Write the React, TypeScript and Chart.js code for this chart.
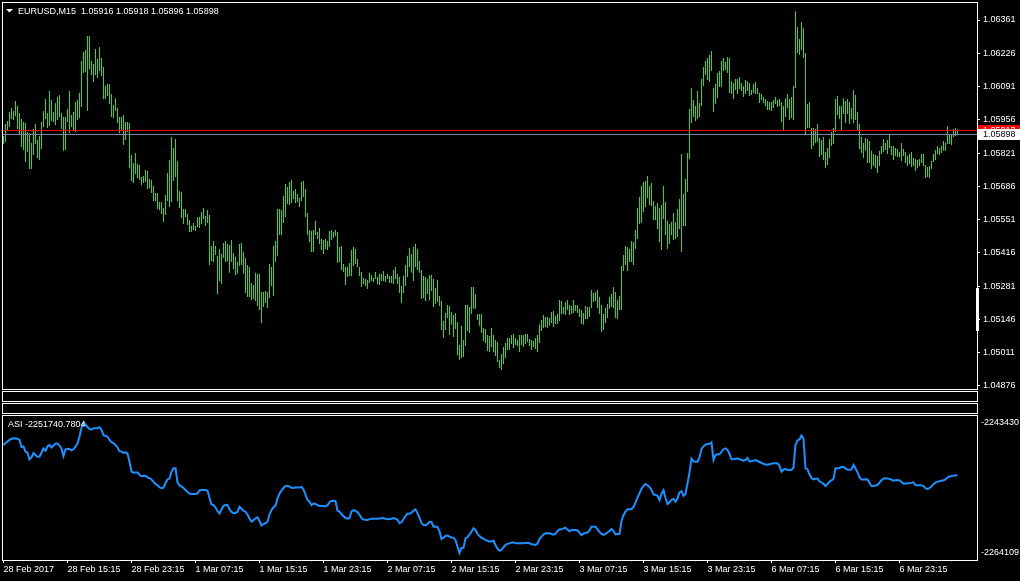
import React, { useEffect, useRef } from 'react';
import { Chart, registerables } from 'chart.js';

Chart.register(...registerables);

const FONT_FAMILY = '"Liberation Sans", Arial, sans-serif';
const BAR_COLOR = 'rgb(50, 220, 30)';
const ASI_COLOR = '#1e90ff';
const BID_COLOR = '#778899';
const ASK_COLOR = '#ff0000';

const symbolTitle = 'EURUSD,M15';
const lastBarOHLC = [1.05916, 1.05918, 1.05896, 1.05898];
const bidPrice = 1.05898;
const askPrice = 1.05913;

const priceTicks = [1.06361, 1.06226, 1.06091, 1.05956, 1.05821, 1.05686, 1.05551, 1.05416, 1.05281, 1.05146, 1.05011, 1.04876];
const priceAxisMin = 1.048638;
const priceAxisMax = 1.0643;

const asiTicks = [-2243430, -2264109];
const asiAxisMin = -2265222.5;
const asiAxisMax = -2242316.5;
const asiLastValue = -2251740.7804;

const barIndexMin = -0.25;
const barIndexMax = 486.75;

const timeTickBars = [0, 32, 64, 96, 128, 160, 192, 224, 256, 288, 320, 352, 384, 416, 448];
const timeLabels = ['28 Feb 2017', '28 Feb 15:15', '28 Feb 23:15', '1 Mar 07:15', '1 Mar 15:15', '1 Mar 23:15', '2 Mar 07:15', '2 Mar 15:15', '2 Mar 23:15', '3 Mar 07:15', '3 Mar 15:15', '3 Mar 23:15', '6 Mar 07:15', '6 Mar 15:15', '6 Mar 23:15'];

const barHighs = [
  1.05890,1.05939,1.05951,1.05988,1.06004,1.05992,1.06032,1.06012,1.05984,1.05959,
  1.05947,1.05943,1.05907,1.05902,1.05862,1.05919,1.05939,1.05874,1.05890,1.05947,
  1.05992,1.06040,1.05984,1.06073,1.06036,1.05988,1.06024,1.06049,1.06057,1.05984,
  1.05967,1.05967,1.06000,1.06073,1.05976,1.05988,1.06028,1.06036,1.06065,1.06195,
  1.06231,1.06239,1.06296,1.06296,1.06195,1.06182,1.06243,1.06203,1.06251,1.06207,
  1.06170,1.06093,1.06101,1.06101,1.06061,1.06016,1.06044,1.06004,1.05967,1.05967,
  1.05976,1.05947,1.05947,1.05943,1.05813,1.05781,1.05821,1.05777,1.05773,1.05724,
  1.05728,1.05752,1.05748,1.05716,1.05712,1.05687,1.05659,1.05659,1.05623,1.05623,
  1.05598,1.05651,1.05740,1.05793,1.05886,1.05842,1.05878,1.05789,1.05667,1.05663,
  1.05594,1.05594,1.05574,1.05550,1.05525,1.05537,1.05525,1.05562,1.05562,1.05582,
  1.05598,1.05566,1.05590,1.05570,1.05444,1.05464,1.05444,1.05404,1.05432,1.05412,
  1.05456,1.05464,1.05452,1.05448,1.05468,1.05416,1.05400,1.05379,1.05452,1.05456,
  1.05420,1.05395,1.05367,1.05359,1.05294,1.05286,1.05335,1.05331,1.05331,1.05257,
  1.05257,1.05261,1.05257,1.05371,1.05359,1.05444,1.05464,1.05594,1.05594,1.05590,
  1.05647,1.05696,1.05683,1.05704,1.05712,1.05667,1.05675,1.05655,1.05639,1.05704,
  1.05708,1.05675,1.05578,1.05509,1.05505,1.05509,1.05546,1.05501,1.05517,1.05472,
  1.05468,1.05472,1.05464,1.05505,1.05509,1.05501,1.05509,1.05501,1.05440,1.05444,
  1.05371,1.05359,1.05359,1.05375,1.05428,1.05440,1.05432,1.05391,1.05359,1.05339,
  1.05314,1.05310,1.05306,1.05335,1.05326,1.05314,1.05339,1.05318,1.05331,1.05331,
  1.05343,1.05322,1.05331,1.05322,1.05322,1.05347,1.05359,1.05331,1.05318,1.05282,
  1.05322,1.05367,1.05404,1.05436,1.05412,1.05440,1.05452,1.05432,1.05383,1.05347,
  1.05322,1.05318,1.05310,1.05326,1.05326,1.05310,1.05274,1.05306,1.05241,1.05221,
  1.05140,1.05172,1.05205,1.05201,1.05176,1.05164,1.05172,1.05136,1.05042,1.05120,
  1.05063,1.05205,1.05205,1.05197,1.05278,1.05278,1.05249,1.05168,1.05168,1.05168,
  1.05111,1.05107,1.05083,1.05079,1.05111,1.05083,1.05063,1.05055,1.04982,1.05006,
  1.05034,1.05050,1.05071,1.05071,1.05083,1.05087,1.05071,1.05063,1.05083,1.05083,
  1.05083,1.05087,1.05087,1.05067,1.05063,1.05059,1.05071,1.05083,1.05124,1.05144,
  1.05164,1.05156,1.05156,1.05152,1.05176,1.05180,1.05160,1.05168,1.05225,1.05221,
  1.05197,1.05217,1.05225,1.05205,1.05201,1.05225,1.05205,1.05205,1.05189,1.05184,
  1.05172,1.05201,1.05197,1.05197,1.05266,1.05253,1.05257,1.05266,1.05237,1.05205,
  1.05168,1.05192,1.05209,1.05237,1.05249,1.05278,1.05257,1.05225,1.05241,1.05363,
  1.05408,1.05444,1.05440,1.05432,1.05464,1.05460,1.05509,1.05598,1.05643,1.05687,
  1.05704,1.05708,1.05728,1.05687,1.05700,1.05627,1.05606,1.05618,1.05598,1.05610,
  1.05687,1.05623,1.05546,1.05533,1.05541,1.05578,1.05541,1.05594,1.05635,1.05817,
  1.05655,1.05716,1.05821,1.06000,1.06085,1.06036,1.06012,1.06073,1.06024,1.06122,
  1.06170,1.06195,1.06207,1.06219,1.06235,1.06085,1.06101,1.06146,1.06154,1.06195,
  1.06207,1.06191,1.06211,1.06207,1.06113,1.06105,1.06122,1.06122,1.06130,1.06105,
  1.06093,1.06118,1.06113,1.06105,1.06077,1.06101,1.06109,1.06085,1.06065,1.06061,
  1.06049,1.06040,1.06032,1.06028,1.06028,1.06036,1.06049,1.06036,1.06040,1.06028,
  1.06012,1.06044,1.06061,1.06040,1.06049,1.06093,1.06397,1.06333,1.06284,1.06353,
  1.06328,1.06227,1.06020,1.06028,1.05923,1.05923,1.05919,1.05939,1.05882,1.05874,
  1.05886,1.05825,1.05842,1.05878,1.05907,1.05923,1.06040,1.06053,1.06012,1.06012,
  1.06044,1.06032,1.06040,1.06028,1.06004,1.06077,1.06057,1.05988,1.05939,1.05886,
  1.05862,1.05882,1.05878,1.05870,1.05830,1.05817,1.05813,1.05809,1.05830,1.05850,
  1.05878,1.05862,1.05874,1.05894,1.05850,1.05850,1.05842,1.05838,1.05825,1.05862,
  1.05838,1.05825,1.05809,1.05817,1.05825,1.05801,1.05797,1.05793,1.05797,1.05817,
  1.05817,1.05773,1.05765,1.05769,1.05789,1.05817,1.05834,1.05850,1.05842,1.05850,
  1.05870,1.05862,1.05931,1.05894,1.05898,1.05919,1.05923,1.05918,
];

const barLows = [
  1.05858,1.05866,1.05911,1.05927,1.05959,1.05955,1.05971,1.05919,1.05894,1.05846,
  1.05834,1.05785,1.05825,1.05756,1.05756,1.05813,1.05858,1.05801,1.05793,1.05838,
  1.05927,1.05959,1.05923,1.05931,1.05951,1.05947,1.05935,1.05955,1.05967,1.05919,
  1.05830,1.05834,1.05947,1.05902,1.05927,1.05911,1.05907,1.05955,1.05963,1.06008,
  1.06146,1.06150,1.05992,1.06162,1.06138,1.06109,1.06138,1.06126,1.06154,1.06134,
  1.06040,1.06040,1.06053,1.06020,1.05967,1.05963,1.05992,1.05943,1.05902,1.05911,
  1.05854,1.05874,1.05907,1.05760,1.05708,1.05700,1.05736,1.05720,1.05712,1.05691,
  1.05700,1.05704,1.05675,1.05679,1.05659,1.05627,1.05627,1.05594,1.05590,1.05574,
  1.05541,1.05570,1.05627,1.05602,1.05623,1.05708,1.05724,1.05627,1.05598,1.05558,
  1.05533,1.05562,1.05529,1.05501,1.05501,1.05509,1.05505,1.05521,1.05517,1.05533,
  1.05554,1.05525,1.05537,1.05367,1.05383,1.05379,1.05408,1.05249,1.05302,1.05290,
  1.05395,1.05379,1.05383,1.05335,1.05379,1.05351,1.05326,1.05331,1.05363,1.05367,
  1.05331,1.05253,1.05237,1.05237,1.05225,1.05229,1.05221,1.05201,1.05184,1.05132,
  1.05197,1.05213,1.05192,1.05233,1.05282,1.05241,1.05379,1.05404,1.05489,1.05489,
  1.05537,1.05562,1.05614,1.05610,1.05618,1.05635,1.05618,1.05623,1.05602,1.05627,
  1.05643,1.05562,1.05489,1.05460,1.05420,1.05420,1.05489,1.05472,1.05452,1.05428,
  1.05412,1.05432,1.05428,1.05440,1.05468,1.05476,1.05485,1.05375,1.05379,1.05347,
  1.05339,1.05286,1.05318,1.05322,1.05322,1.05363,1.05371,1.05359,1.05322,1.05278,
  1.05290,1.05282,1.05270,1.05294,1.05302,1.05298,1.05310,1.05290,1.05286,1.05302,
  1.05302,1.05298,1.05310,1.05294,1.05294,1.05290,1.05310,1.05290,1.05253,1.05213,
  1.05253,1.05282,1.05318,1.05359,1.05335,1.05302,1.05359,1.05347,1.05335,1.05229,
  1.05233,1.05221,1.05249,1.05225,1.05261,1.05197,1.05209,1.05217,1.05201,1.05103,
  1.05071,1.05103,1.05152,1.05083,1.05124,1.05075,1.05107,1.05002,1.04982,1.04990,
  1.04994,1.05038,1.05099,1.05091,1.05168,1.05189,1.05189,1.05144,1.05120,1.05091,
  1.05059,1.05050,1.05018,1.05014,1.05034,1.05014,1.04998,1.04973,1.04949,1.04941,
  1.04965,1.04990,1.05022,1.05022,1.05046,1.05030,1.05042,1.05038,1.05014,1.05042,
  1.05034,1.05046,1.05055,1.05038,1.05022,1.05034,1.05026,1.05014,1.05050,1.05099,
  1.05111,1.05115,1.05111,1.05120,1.05132,1.05115,1.05128,1.05128,1.05140,1.05168,
  1.05168,1.05164,1.05184,1.05164,1.05168,1.05172,1.05180,1.05172,1.05156,1.05128,
  1.05124,1.05148,1.05148,1.05156,1.05192,1.05217,1.05221,1.05192,1.05168,1.05095,
  1.05103,1.05132,1.05152,1.05189,1.05197,1.05192,1.05152,1.05148,1.05184,1.05184,
  1.05343,1.05367,1.05343,1.05379,1.05379,1.05367,1.05432,1.05472,1.05533,1.05537,
  1.05582,1.05602,1.05639,1.05610,1.05606,1.05550,1.05550,1.05513,1.05460,1.05428,
  1.05554,1.05489,1.05432,1.05452,1.05489,1.05468,1.05472,1.05481,1.05513,1.05420,
  1.05525,1.05525,1.05663,1.05797,1.05943,1.05967,1.05951,1.05959,1.05967,1.06012,
  1.06093,1.06138,1.06118,1.06109,1.06154,1.05988,1.06020,1.06044,1.06089,1.06089,
  1.06154,1.06158,1.06146,1.06065,1.06061,1.06040,1.06077,1.06061,1.06081,1.06073,
  1.06049,1.06061,1.06073,1.06053,1.06057,1.06065,1.06061,1.06061,1.06024,1.06036,
  1.06024,1.06012,1.05996,1.05996,1.05992,1.06004,1.06020,1.06008,1.06012,1.05947,
  1.05915,1.05967,1.06004,1.05955,1.05963,1.05955,1.06085,1.06227,1.06219,1.06239,
  1.06207,1.05898,1.05923,1.05923,1.05838,1.05850,1.05862,1.05866,1.05805,1.05813,
  1.05793,1.05760,1.05773,1.05801,1.05850,1.05858,1.05907,1.05976,1.05959,1.05915,
  1.05980,1.05943,1.05980,1.05939,1.05959,1.05943,1.05955,1.05911,1.05838,1.05821,
  1.05801,1.05830,1.05781,1.05781,1.05756,1.05769,1.05760,1.05740,1.05769,1.05817,
  1.05825,1.05834,1.05817,1.05842,1.05813,1.05793,1.05809,1.05805,1.05805,1.05789,
  1.05809,1.05781,1.05769,1.05777,1.05765,1.05769,1.05748,1.05760,1.05769,1.05781,
  1.05769,1.05720,1.05724,1.05720,1.05756,1.05785,1.05793,1.05817,1.05813,1.05821,
  1.05830,1.05830,1.05858,1.05858,1.05854,1.05886,1.05890,1.05896,
];

const asiValues = [
  -2246930,-2246611,-2246389,-2246118,-2245943,-2245864,-2245896,-2245943,-2246134,-2247248,
  -2247168,-2247995,-2248123,-2249236,-2248918,-2248202,-2248520,-2248791,-2248791,-2248123,
  -2247486,-2247836,-2247168,-2246930,-2247327,-2247009,-2246691,-2246691,-2247041,-2247486,
  -2248679,-2247614,-2247518,-2247566,-2247773,-2247614,-2247200,-2246659,-2245609,-2244178,
  -2243430,-2243669,-2244066,-2244384,-2244464,-2244273,-2244273,-2244257,-2244098,-2244496,
  -2245371,-2245498,-2245577,-2246134,-2246484,-2246643,-2246930,-2247327,-2247916,-2247964,
  -2248202,-2248091,-2248282,-2249602,-2251145,-2251320,-2251288,-2251304,-2251654,-2251893,
  -2251813,-2251861,-2252083,-2252211,-2252418,-2252799,-2253133,-2253340,-2253658,-2253817,
  -2253722,-2253022,-2252401,-2252274,-2251193,-2250636,-2250636,-2252863,-2253356,-2253515,
  -2253770,-2254088,-2254406,-2254644,-2254708,-2254724,-2254724,-2254629,-2254167,-2254104,
  -2254088,-2254088,-2254183,-2255360,-2256394,-2256474,-2256871,-2257428,-2257842,-2257174,
  -2256617,-2256474,-2256442,-2257158,-2257571,-2257762,-2257746,-2257571,-2256760,-2257078,
  -2257396,-2257540,-2258001,-2258605,-2259098,-2258892,-2258589,-2258430,-2259019,-2259735,
  -2259528,-2259353,-2259130,-2258001,-2257301,-2256824,-2256569,-2255456,-2254660,-2254151,
  -2253770,-2253451,-2253451,-2253531,-2253738,-2253754,-2253658,-2253690,-2253690,-2253595,
  -2254008,-2254835,-2255710,-2255917,-2256506,-2256235,-2256299,-2256490,-2256617,-2256633,
  -2256633,-2256712,-2256506,-2256028,-2255837,-2255806,-2255869,-2257349,-2257524,-2257905,
  -2258271,-2258510,-2258637,-2258558,-2257492,-2257285,-2257428,-2257587,-2258001,-2258542,
  -2258780,-2258828,-2258844,-2258717,-2258653,-2258653,-2258653,-2258653,-2258621,-2258573,
  -2258542,-2258653,-2258748,-2258717,-2258653,-2258558,-2258653,-2258828,-2259385,-2259226,
  -2258748,-2258223,-2257842,-2257858,-2257714,-2257349,-2257158,-2257810,-2258510,-2259337,
  -2259671,-2259703,-2259512,-2259146,-2259210,-2259910,-2259894,-2259973,-2260673,-2261898,
  -2261659,-2261389,-2261341,-2261516,-2261644,-2261691,-2262025,-2263123,-2264109,-2263314,
  -2263298,-2261771,-2261564,-2261182,-2260689,-2260180,-2260451,-2261055,-2261421,-2261675,
  -2261866,-2262025,-2262168,-2262296,-2262232,-2262153,-2262837,-2263425,-2263759,-2263600,
  -2263187,-2262837,-2262646,-2262582,-2262455,-2262391,-2262566,-2262566,-2262566,-2262566,
  -2262566,-2262518,-2262487,-2262550,-2262709,-2262773,-2262837,-2262598,-2261882,-2261500,
  -2261182,-2260975,-2260975,-2260975,-2261087,-2261198,-2261055,-2260641,-2260339,-2260339,
  -2260196,-2260085,-2260387,-2260657,-2260451,-2260451,-2260451,-2260530,-2260912,-2261278,
  -2261023,-2260880,-2260880,-2260498,-2259926,-2259926,-2259926,-2260339,-2260737,-2261087,
  -2261214,-2261055,-2260848,-2260594,-2260291,-2260610,-2261135,-2261087,-2261087,-2259019,
  -2258096,-2257508,-2257158,-2257158,-2257158,-2256776,-2256092,-2255313,-2254613,-2253897,
  -2253451,-2253133,-2253324,-2253610,-2254088,-2254804,-2254883,-2255010,-2255678,-2254724,
  -2254120,-2255360,-2256315,-2256044,-2255647,-2255503,-2255949,-2255440,-2254485,-2254295,
  -2255010,-2254724,-2253038,-2251304,-2249109,-2249522,-2249586,-2249586,-2248918,-2247550,
  -2247152,-2246882,-2246770,-2246723,-2246500,-2249316,-2248520,-2248393,-2248409,-2248043,
  -2247598,-2247454,-2247709,-2248361,-2249204,-2249204,-2249125,-2249093,-2249188,-2249316,
  -2249411,-2249316,-2248997,-2249538,-2249506,-2249411,-2249316,-2249475,-2249634,-2249793,
  -2249920,-2250047,-2250079,-2249984,-2249920,-2249841,-2249841,-2249841,-2250270,-2251177,
  -2250859,-2250731,-2250906,-2250906,-2250875,-2250509,-2246930,-2246198,-2246055,-2245418,
  -2245896,-2250636,-2250779,-2251590,-2252179,-2252386,-2252290,-2252258,-2252704,-2252895,
  -2253101,-2253451,-2253133,-2252736,-2252577,-2252306,-2250636,-2250636,-2250588,-2250429,
  -2250429,-2250636,-2250843,-2250875,-2250811,-2250111,-2250636,-2251272,-2252068,-2252418,
  -2252418,-2252386,-2252418,-2252974,-2253451,-2253451,-2253372,-2253292,-2252895,-2252513,
  -2252258,-2252227,-2252242,-2252338,-2252449,-2252592,-2252545,-2252497,-2252561,-2252767,
  -2253086,-2253070,-2253022,-2253022,-2252958,-2252863,-2253340,-2253340,-2253340,-2253340,
  -2253451,-2253817,-2253960,-2253770,-2253547,-2253165,-2252927,-2252751,-2252688,-2252624,
  -2252529,-2252386,-2252100,-2251950,-2251860,-2251800,-2251770,-2251740.7804,
];

const font9 = { family: FONT_FAMILY, size: 9 };

function PriceChart() {
  const ref = useRef<HTMLCanvasElement | null>(null);
  useEffect(() => {
    const canvas = ref.current;
    if (!canvas) return;
    const header = symbolTitle + '  ' + lastBarOHLC.map((v) => v.toFixed(5)).join(' ');
    const overlay = {
      id: 'priceOverlay',
      afterDatasetsDraw(chart: any) {
        const { ctx, chartArea } = chart;
        const ys = chart.scales.y;
        ctx.save();
        const hline = (v: number, color: string) => {
          const p = Math.floor(ys.getPixelForValue(v)) + 0.5;
          ctx.strokeStyle = color;
          ctx.lineWidth = 1;
          ctx.beginPath();
          ctx.moveTo(chartArea.left, p);
          ctx.lineTo(chartArea.right, p);
          ctx.stroke();
        };
        hline(bidPrice, BID_COLOR);
        hline(askPrice, ASK_COLOR);
        ctx.restore();
      },
      afterDraw(chart: any) {
        const { ctx, chartArea } = chart;
        const ys = chart.scales.y;
        ctx.save();
        ctx.font = `9px ${FONT_FAMILY}`;
        ctx.textBaseline = 'middle';
        ctx.textAlign = 'left';
        const tag = (v: number, bg: string, fg: string) => {
          const p = Math.floor(ys.getPixelForValue(v));
          ctx.fillStyle = bg;
          ctx.fillRect(chartArea.right + 1, p - 5, chart.width - chartArea.right - 1, 11);
          ctx.fillStyle = fg;
          ctx.fillText(v.toFixed(5), chartArea.right + 6, p + 0.5);
        };
        tag(askPrice, ASK_COLOR, '#ffffff');
        tag(bidPrice, '#ffffff', '#000000');
        ctx.fillStyle = '#ffffff';
        ctx.fillRect(chartArea.right - 1, 288, 3, 43);
        ctx.beginPath();
        ctx.moveTo(6, 9);
        ctx.lineTo(13, 9);
        ctx.lineTo(9.5, 12.5);
        ctx.closePath();
        ctx.fill();
        ctx.fillText(header, 18, 11.5);
        ctx.restore();
      },
    };
    const chart = new Chart(canvas, {
      type: 'bar',
      data: {
        datasets: [
          {
            data: barHighs.map((h, i) => ({ x: i, y: [barLows[i], h] })) as any,
            backgroundColor: BAR_COLOR,
            borderWidth: 0,
            barThickness: 1,
            inflateAmount: 0,
            grouped: false,
          } as any,
        ],
      },
      options: {
        responsive: false,
        animation: false,
        devicePixelRatio: 1,
        events: [],
        layout: { padding: { top: 3, left: 3, right: 0, bottom: 1 } },
        plugins: { legend: { display: false }, tooltip: { enabled: false }, title: { display: false } },
        scales: {
          x: { type: 'linear', display: false, min: barIndexMin, max: barIndexMax, offset: false, grid: { offset: false } },
          y: {
            type: 'linear',
            position: 'right',
            min: priceAxisMin,
            max: priceAxisMax,
            bounds: 'data',
            beginAtZero: false,
            afterBuildTicks: (s: any) => {
              s.ticks = priceTicks.map((v) => ({ value: v }));
            },
            afterFit: (s: any) => {
              s.width = 43;
              s.paddingTop = 0;
              s.paddingBottom = 0;
            },
            grid: { drawOnChartArea: false, drawTicks: true, tickLength: 3, color: '#ffffff', tickColor: '#ffffff', lineWidth: 1 },
            border: { display: true, color: '#ffffff', width: 1 },
            ticks: { color: '#ffffff', padding: 3, autoSkip: false, font: font9, callback: (v: any) => Number(v).toFixed(5) },
          },
        } as any,
      },
      plugins: [overlay],
    });
    return () => chart.destroy();
  }, []);
  return <canvas ref={ref} width={1020} height={390} style={{ position: 'absolute', left: 0, top: 0, display: 'block' }} />;
}

function AsiChart() {
  const ref = useRef<HTMLCanvasElement | null>(null);
  useEffect(() => {
    const canvas = ref.current;
    if (!canvas) return;
    const overlay = {
      id: 'asiOverlay',
      afterDatasetsDraw(chart: any) {
        const { ctx, chartArea } = chart;
        ctx.save();
        ctx.font = `9px ${FONT_FAMILY}`;
        ctx.textBaseline = 'middle';
        ctx.textAlign = 'left';
        ctx.fillStyle = '#ffffff';
        ctx.fillText('ASI ' + asiLastValue.toFixed(4), chartArea.left + 5, chartArea.top + 8.5);
        ctx.restore();
      },
    };
    const chart = new Chart(canvas, {
      type: 'line',
      data: {
        datasets: [
          {
            data: asiValues.map((v, i) => ({ x: i, y: v })),
            borderColor: ASI_COLOR,
            borderWidth: 2,
            pointRadius: 0,
            tension: 0,
            fill: false,
          },
        ],
      },
      options: {
        responsive: false,
        animation: false,
        devicePixelRatio: 1,
        events: [],
        layout: { padding: { top: 16, left: 3, right: 0, bottom: 0 } },
        plugins: { legend: { display: false }, tooltip: { enabled: false }, title: { display: false } },
        scales: {
          x: {
            type: 'linear',
            position: 'bottom',
            min: barIndexMin,
            max: barIndexMax,
            offset: false,
            afterBuildTicks: (s: any) => {
              s.ticks = timeTickBars.map((v) => ({ value: v }));
            },
            afterFit: (s: any) => {
              s.height = 21;
              s.paddingLeft = 0;
              s.paddingRight = 0;
            },
            grid: { drawOnChartArea: false, drawTicks: true, tickLength: 3, color: '#ffffff', tickColor: '#ffffff', offset: false },
            border: { display: true, color: '#ffffff', width: 1 },
            ticks: {
              color: '#ffffff',
              padding: 1,
              align: 'start',
              autoSkip: false,
              maxRotation: 0,
              minRotation: 0,
              font: font9,
              callback: (_v: any, idx: number) => timeLabels[idx],
            },
          },
          y: {
            type: 'linear',
            position: 'right',
            min: asiAxisMin,
            max: asiAxisMax,
            bounds: 'data',
            afterBuildTicks: (s: any) => {
              s.ticks = asiTicks.map((v) => ({ value: v }));
            },
            afterFit: (s: any) => {
              s.width = 43;
              s.paddingTop = 0;
              s.paddingBottom = 0;
            },
            grid: { drawOnChartArea: false, drawTicks: false },
            border: { display: true, color: '#ffffff', width: 1 },
            ticks: { color: '#ffffff', padding: 4, autoSkip: false, font: font9, callback: (v: any) => String(Math.round(Number(v))) },
          },
        } as any,
      },
      plugins: [overlay],
    });
    return () => chart.destroy();
  }, []);
  return <canvas ref={ref} width={1020} height={181} style={{ position: 'absolute', left: 0, top: 400, display: 'block' }} />;
}

const frame = (left: number, top: number, width: number, height: number): React.CSSProperties => ({
  position: 'absolute',
  left,
  top,
  width,
  height,
  border: '1px solid #ffffff',
  boxSizing: 'border-box',
});

export default function App() {
  return (
    <div style={{ position: 'fixed', left: 0, top: 0, width: 1020, height: 581, background: '#000000', overflow: 'hidden' }}>
      <div style={frame(2, 2, 976, 388)} />
      <div style={frame(2, 391, 976, 11)} />
      <div style={frame(2, 403, 976, 11)} />
      <div style={frame(2, 415, 976, 146)} />
      <PriceChart />
      <AsiChart />
    </div>
  );
}
